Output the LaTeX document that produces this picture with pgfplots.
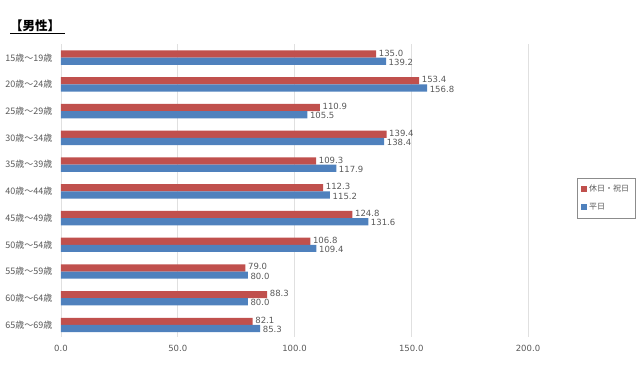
\documentclass[border=0pt]{standalone}
\usepackage{pgfplots}
\pgfplotsset{compat=1.18}
\usepackage{fontspec}
\setmainfont{DejaVu Sans}
\newfontfamily\jp{Noto Sans CJK JP}
\definecolor{cred}{RGB}{192,80,77}
\definecolor{cblue}{RGB}{79,129,189}
\definecolor{txt}{RGB}{89,89,89}
\begin{document}
\begin{tikzpicture}[x=1pt,y=1pt]
\useasboundingbox (0,0) rectangle (640,365);
\node[anchor=base west,font=\jp\bfseries\fontsize{12.5}{14}\selectfont,inner sep=0pt] at (10,334) {【男性】};
\draw[black,line width=0.9pt] (10,331.5) -- (65,331.5);
\begin{axis}[
  at={(61pt,28pt)}, anchor=south west,
  scale only axis, width=467pt, height=293pt,
  xbar, xmin=0, xmax=200,
  ymin=-0.51, ymax=10.45, y dir=reverse,
  ytick={0,...,10},
  yticklabels={15歳～19歳,20歳～24歳,25歳～29歳,30歳～34歳,35歳～39歳,40歳～44歳,45歳～49歳,50歳～54歳,55歳～59歳,60歳～64歳,65歳～69歳},
  yticklabel style={font=\jp\fontsize{9}{10}\selectfont, text=txt, xshift=-5pt},
  xtick={0,50,100,150,200},
  xticklabel style={font=\fontsize{8.5}{10}\selectfont, text=txt, yshift=-5pt},
  /pgf/number format/assume math mode=true,
  xticklabel={\pgfmathprintnumber[fixed,fixed zerofill,precision=1]{\tick}},
  major tick length=0pt,
  xmajorgrids, grid style={draw=black!12, line width=0.6pt},
  axis line style={draw=none},
  bar width=0.27,
  nodes near coords,
  every node near coord/.append style={font=\fontsize{8.5}{9}\selectfont, text=txt, anchor=west, inner xsep=2.5pt, inner ysep=0pt,
    /pgf/number format/fixed,/pgf/number format/fixed zerofill,/pgf/number format/precision=1},
  clip=false,
  legend style={at={(1.105,0.474)}, anchor=west, draw=black!45, font=\jp\fontsize{8}{10}\selectfont, text=txt,
    row sep=6pt, inner xsep=4pt, inner ysep=5pt, cells={anchor=west}},
  legend image code/.code={\fill[#1] (0pt,-3pt) rectangle (6pt,3pt);},
]
\addplot[fill=cred, draw=none, bar shift=-0.135, every node near coord/.append style={yshift=1pt}] coordinates {
(135.0,0) (153.4,1) (110.9,2) (139.4,3) (109.3,4) (112.3,5) (124.8,6) (106.8,7) (79.0,8) (88.3,9) (82.1,10)};
\addlegendentry{休日・祝日}
\addplot[fill=cblue, draw=none, bar shift=0.135, every node near coord/.append style={yshift=-1pt}] coordinates {
(139.2,0) (156.8,1) (105.5,2) (138.4,3) (117.9,4) (115.2,5) (131.6,6) (109.4,7) (80.0,8) (80.0,9) (85.3,10)};
\addlegendentry{平日}
\end{axis}
\end{tikzpicture}
\end{document}
